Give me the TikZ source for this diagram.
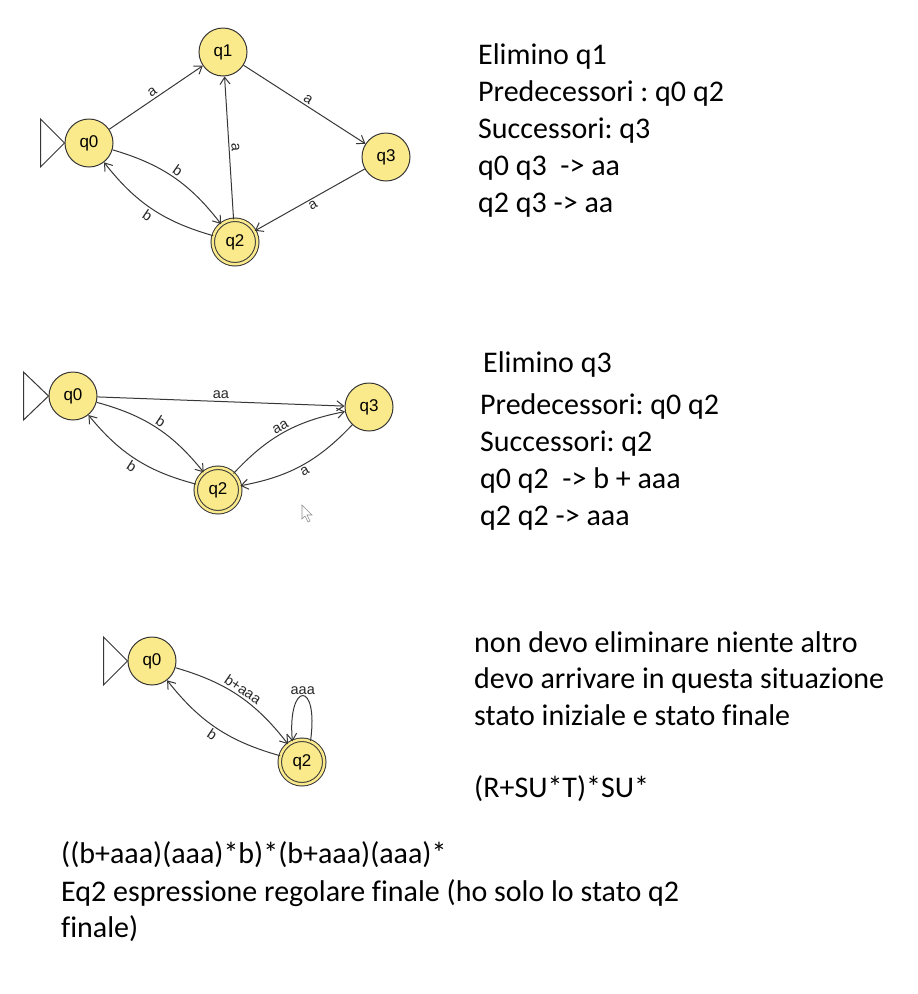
\documentclass[tikz,border=0pt]{standalone}
\usepackage{fontspec}
\setmainfont[Ligatures={NoCommon}]{Carlito}
\newfontfamily\jf{Liberation Sans}
\usetikzlibrary{arrows.meta}
\definecolor{statey}{RGB}{250,234,140}
\definecolor{linec}{RGB}{55,55,55}
\tikzset{
  state/.style={circle, draw=linec, fill=statey, line width=1pt, minimum size=48pt, inner sep=0pt,
    font=\jf\fontsize{17}{17}\selectfont},
  accept/.style={state, minimum size=44.5pt, double=statey, double distance=2.5pt},
  edge/.style={draw=linec, line width=1pt, -{Straight Barb[length=7pt,width=10pt]}},
  lab/.style={font=\jf\fontsize{14.5}{14.5}\selectfont, inner sep=2pt, text=black!85},
  initial/.style={draw=linec, line width=1pt},
  txt/.style={anchor=base west, inner sep=0pt, font=\fontsize{30}{37}\selectfont}
}
\begin{document}
\frenchspacing
\begin{tikzpicture}[x=1pt,y=1pt]
\useasboundingbox (0,0) rectangle (918,-994);

% ---------- Diagram 1 ----------
\node[state]  (a0) at (89,-143) {q0};
\node[state]  (a1) at (223,-52) {q1};
\node[state]  (a3) at (386,-157) {q3};
\node[accept] (a2) at (235,-242) {q2};
\draw[initial] (a0.west) -- ++(-24,24) -- ++(0,-48) -- cycle;
\draw[edge] (a0) -- node[lab, sloped, above] {a} (a1);
\draw[edge] (a1) -- node[lab, sloped, above] {a} (a3);
\draw[edge] (a2) -- node[lab, sloped, above] {a} (a1);
\draw[edge] (a3) -- node[lab, sloped, below] {a} (a2);
\draw[edge] (a0) to[bend left=18] node[lab, sloped, above] {b} (a2);
\draw[edge] (a2) to[bend left=18] node[lab, sloped, below] {b} (a0);

% ---------- Diagram 2 ----------
\node[state]  (b0) at (73,-396) {q0};
\node[state]  (b3) at (369,-407) {q3};
\node[accept] (b2) at (218,-490) {q2};
\draw[initial] (b0.west) -- ++(-25,24) -- ++(0,-48) -- cycle;
\draw[edge] (b0) -- node[lab, above] {aa} (b3);
\draw[edge] (b0) to[bend left=18] node[lab, sloped, above] {b} (b2);
\draw[edge] (b2) to[bend left=18] node[lab, sloped, below] {b} (b0);
\draw[edge] (b2) to[bend left=18] node[lab, sloped, above] {aa} (b3);
\draw[edge] (b3) to[bend left=18] node[lab, sloped, below] {a} (b2);
% mouse cursor
\draw[black!45, line width=0.6pt, fill=white] (302,-505) -- (302,-519) -- (305,-516) -- (308,-522)
  -- (310,-521) -- (307,-515) -- (312,-515) -- cycle;

% ---------- Diagram 3 ----------
\node[state]  (c0) at (152,-661) {q0};
\node[accept] (c2) at (302,-762) {q2};
\draw[initial] (c0.west) -- ++(-24,24) -- ++(0,-48) -- cycle;
\draw[edge] (c0) to[bend left=18] node[lab, sloped, above] {b+aaa} (c2);
\draw[edge] (c2) to[bend left=18] node[lab, sloped, below] {b} (c0);
\draw[edge] (c2.68) .. controls +(82:62) and +(95:60) .. node[lab, above, inner sep=0.5pt] {aaa} (c2.115);

% ---------- Texts ----------
\node[txt] (t11) at (478,-64)  {Elimino q1};
\node[txt] (t12) at (478,-101) {Predecessori : q0 q2};
\node[txt] (t13) at (478,-138) {Successori: q3};
\node[txt] (t14) at (478,-175) {q0 q3 \ -> aa};
\node[txt] (t15) at (478,-212) {q2 q3 -> aa};

\node[txt] (t21) at (483,-372) {Elimino q3};
\node[txt] (t22) at (480,-414) {Predecessori: q0 q2};
\node[txt] (t23) at (480,-451) {Successori: q2};
\node[txt] (t24) at (480,-488) {q0 q2 \ -> b + aaa};
\node[txt] (t25) at (480,-525) {q2 q2 -> aaa};

\node[txt] (t31) at (474,-652) {non devo eliminare niente altro};
\node[txt] (t32) at (474,-688) {devo arrivare in questa situazione};
\node[txt] (t33) at (474,-725) {stato iniziale e stato finale};
\node[txt] (t34) at (474,-797) {(R+SU*T)*SU*};

\node[txt] (t41) at (61,-863) {((b+aaa)(aaa)*b)*(b+aaa)(aaa)*};
\node[txt] (t42) at (61,-901) {Eq2 espressione regolare finale (ho solo lo stato q2};
\node[txt] (t43) at (61,-937) {finale)};
\end{tikzpicture}
\end{document}
